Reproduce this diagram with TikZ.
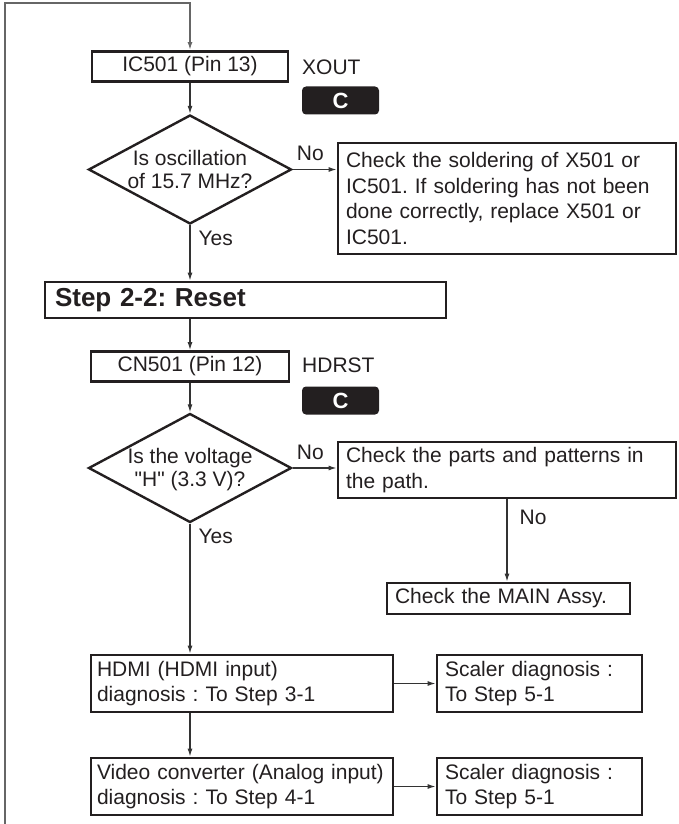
\documentclass[tikz,border=0pt]{standalone}
\usepackage{fontspec}
\setmainfont{Liberation Sans}[Ligatures=TeXOff]
\usetikzlibrary{arrows.meta,shapes.geometric,positioning}
\definecolor{SvcInk}{HTML}{231F20}
\definecolor{SvcLine}{HTML}{333333}
\definecolor{SvcGray}{HTML}{666666}
\frenchspacing

\begin{document}
\begin{tikzpicture}[
  x=1pt,y=-1pt,font=\fontsize{21}{25.5}\selectfont,>=Latex,
  flow/.style={-{Latex[length=8pt,width=5pt]},draw=SvcLine,line width=1.2pt},
  back/.style={flow,draw=SvcGray,line width=1.5pt},
  box/.style={draw=SvcInk,line width=2.8pt,fill=white,text=SvcInk,
    inner xsep=8pt,inner ysep=0pt,align=left},
  probe/.style={box,align=center,minimum height=30pt},
  decision/.style={diamond,draw=SvcInk,line width=2.4pt,inner sep=0pt,
    minimum width=203pt,minimum height=109pt},
  asks/.style={align=center,text=SvcInk,inner sep=0pt,
    font=\fontsize{21}{23}\selectfont},
  badge/.style={fill=SvcInk,rounded corners=4pt,text=white,inner sep=0pt,
    minimum width=77pt,minimum height=28pt,
    font=\bfseries\fontsize{22}{24}\selectfont},
  tag/.style={text=SvcInk,inner sep=0pt},
  steptitle/.style={box,inner xsep=10pt,text width=381pt,minimum height=36pt,
    font=\bfseries\fontsize{26}{28}\selectfont}
]
\useasboundingbox (0,0) rectangle (678,824);

% Step 2-1 tail: clock check on the oscillator
\node[probe,minimum width=196pt] (ic) at (190,66.5) {IC501 (Pin 13)};
\node[tag,anchor=west] (xout) at (302,67) {XOUT};
\node[badge] (cx) at (340.5,100.5) {C};

\node[decision] (osc) at (190,169.5) {};
\node[asks] at (osc) {Is oscillation\\of 15.7 MHz?};
\node[box,text width=322pt,minimum height=111pt] (chk1) at (507,198.5)
  {Check the soldering of X501 or\\IC501. If soldering has not been\\
   done correctly, replace X501 or\\IC501.};

% Step 2-2: reset line
\node[steptitle] (step) at (245.5,300) {Step 2-2: Reset};

\node[probe,minimum width=198pt] (cn) at (190,366.5) {CN501 (Pin 12)};
\node[tag,anchor=west] (hdrst) at (302,365) {HDRST};
\node[badge] (ch) at (340.5,400.5) {C};

\node[decision] (volt) at (190,468) {};
\node[asks,yshift=-2pt] at (volt) {Is the voltage\\"H" (3.3 V)?};
\node[box,text width=322pt,minimum height=56pt] (chk2) at (507,470)
  {Check the parts and patterns in\\the path.};
\node[box,text width=227pt,minimum height=31pt] (main) at (508.5,598.5)
  {Check the MAIN Assy.};

% hand-off to the input and scaler diagnoses
\node[box,inner xsep=6pt,text width=290pt,minimum height=57pt] (hdmi) at (242,683.5)
  {HDMI (HDMI input)\\diagnosis : To Step 3-1};
\node[box,text width=189pt,minimum height=57pt] (sc1) at (539.5,683.5)
  {Scaler diagnosis :\\To Step 5-1};
\node[box,inner xsep=6pt,text width=290pt,minimum height=57pt] (video) at (242,786.5)
  {\mbox{Video converter (Analog input)}\\diagnosis : To Step 4-1};
\node[box,text width=189pt,minimum height=57pt] (sc2) at (539.5,786.5)
  {Scaler diagnosis :\\To Step 5-1};

% return path from the previous page
\coordinate (loopin) at (5,824);
\coordinate (looptop) at (5,3);
\draw[back] (loopin) -- (looptop) -| (ic.north);

\draw[flow] (ic) -- (osc);
\draw[flow] (osc.east) -- node[tag,anchor=base,pos=0.4,yshift=9pt] {No}
  (osc.east -| chk1.west);
\draw[flow] (osc.south) -- node[tag,anchor=base west,pos=0.37,xshift=8pt] {Yes}
  (osc.south |- step.north);
\draw[flow] (cn.north |- step.south) -- (cn);
\draw[flow] (cn) -- (volt);
\draw[flow] (volt.east) -- node[tag,anchor=base,pos=0.4,yshift=9pt] {No}
  (volt.east -| chk2.west);
\draw[flow] (chk2.south) -- node[tag,anchor=base west,pos=0.31,xshift=12pt] {No}
  (chk2.south |- main.north);
\draw[flow] (volt.south) -- node[tag,anchor=base west,pos=0.15,xshift=8pt] {Yes}
  (volt.south |- hdmi.north);
\draw[flow] (hdmi) -- (sc1);
\draw[flow] (volt.south |- hdmi.south) -- (volt.south |- video.north);
\draw[flow] (video) -- (sc2);

\end{tikzpicture}
\end{document}
